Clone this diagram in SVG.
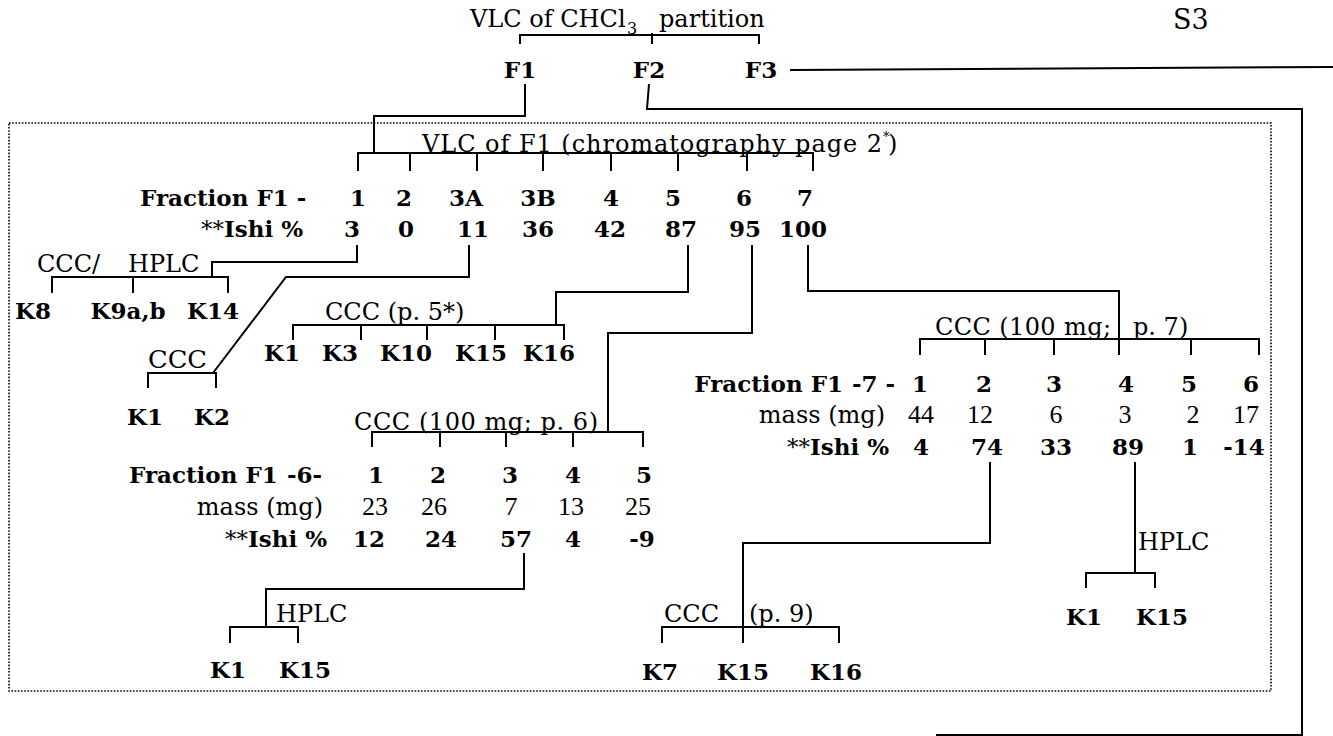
<svg xmlns="http://www.w3.org/2000/svg" width="1333" height="736" viewBox="0 0 1333 736">
<style>
text{fill:#000}
.r{font-family:"DejaVu Serif",serif;font-size:24px}
.b{font-family:"DejaVu Serif",serif;font-weight:bold;font-size:23px}
.m{font-family:"Liberation Serif",serif;font-size:26px}
.c{text-anchor:middle}
.e{text-anchor:end}
.n{font-weight:normal}
.ln{fill:none;stroke:#000;stroke-width:2}
.dot{fill:none;stroke:#000;stroke-width:1.6;stroke-dasharray:1.6 1.6}
</style>
<rect width="1333" height="736" fill="#fff"/>
<g id="box"><rect class="dot" x="9" y="123" width="1262" height="568"/></g>
<g id="connectors">
<path class="ln" d="M520,44V35H759V44M652,33V44"/>
<path class="ln" d="M525,84V116H374V153"/>
<path class="ln" d="M649,84L647,109H1302V735H936"/>
<path class="ln" d="M790,70L1333,67"/>
<path class="ln" d="M358,171V153H813V171M410,153V171M477,153V171M543,153V171M611,153V171M678,153V171M747,153V171"/>
<path class="ln" d="M357,245V262H212V277M52,293V277H228V293M133,277V293"/>
<path class="ln" d="M469,245V277H286L213,373M148,388V373H217M216,373V388"/>
<path class="ln" d="M688,245V292H556V325M293,340V325H564V340M361,325V340M427,325V340M495,325V340"/>
<path class="ln" d="M752,245V333H608V432M372,447V432H643V447M440,432V447M506,432V447M573,432V447"/>
<path class="ln" d="M808,245V291H1119V355M920,355V339H1259V355M985,339V355M1054,339V355M1191,339V355"/>
<path class="ln" d="M524,553V589H266V627M230,643V627H298V643"/>
<path class="ln" d="M990,462V543H743V643M662,643V627H839V643"/>
<path class="ln" d="M1135,462V573M1086,588V573H1155V588"/>
</g>
<g id="title">
<text class="r" x="470" y="27">VLC of CHCl</text>
<text class="r" x="627" y="34" style="font-size:16px">3</text>
<text class="r" x="659" y="27">partition</text>
</g>
<g id="s3"><text class="r" x="1173" y="29" style="font-size:27px">S3</text></g>
<g id="F1"><text class="b c" x="520" y="78">F1</text></g>
<g id="F2"><text class="b c" x="649" y="78">F2</text></g>
<g id="F3"><text class="b c" x="761" y="78">F3</text></g>
<g id="vlcF1">
<text class="r" x="422" y="152" textLength="460">VLC of F1 (chromatography page 2</text>
<text class="r" x="883" y="141" style="font-size:13px">*</text>
<text class="r" x="888" y="152">)</text>
</g>
<g id="fractionF1">
<text class="b" x="140" y="206">Fraction F1 -</text>
<text class="b c" x="358" y="206">1</text>
<text class="b c" x="404" y="206">2</text>
<text class="b c" x="466" y="206">3A</text>
<text class="b c" x="538" y="206">3B</text>
<text class="b c" x="611" y="206">4</text>
<text class="b c" x="673" y="206">5</text>
<text class="b c" x="744" y="206">6</text>
<text class="b c" x="805" y="206">7</text>
</g>
<g id="ishiF1">
<text class="b e" x="303" y="237"><tspan class="n">**</tspan>Ishi %</text>
<text class="b c" x="352" y="237">3</text>
<text class="b c" x="406" y="237">0</text>
<text class="b c" x="473" y="237">11</text>
<text class="b c" x="538" y="237">36</text>
<text class="b c" x="610" y="237">42</text>
<text class="b c" x="681" y="237">87</text>
<text class="b c" x="745" y="237">95</text>
<text class="b c" x="803" y="237">100</text>
</g>
<g id="cccHplc">
<text class="r" x="37" y="272">CCC/</text>
<text class="r" x="128" y="272">HPLC</text>
<text class="b c" x="33" y="319">K8</text>
<text class="b c" x="128" y="319">K9a,b</text>
<text class="b c" x="213" y="319">K14</text>
</g>
<g id="cccLeft">
<text class="r" x="148" y="368" textLength="59" lengthAdjust="spacingAndGlyphs">CCC</text>
<text class="b c" x="145" y="425">K1</text>
<text class="b c" x="212" y="425">K2</text>
</g>
<g id="cccP5">
<text class="r" x="325" y="320">CCC (p. 5*)</text>
<text class="b c" x="282" y="361">K1</text>
<text class="b c" x="340" y="361">K3</text>
<text class="b c" x="406" y="361">K10</text>
<text class="b c" x="481" y="361">K15</text>
<text class="b c" x="549" y="361">K16</text>
</g>
<g id="f16">
<text class="r" x="354" y="430" textLength="244">CCC (100 mg; p. 6)</text>
<text class="b" x="129" y="483">Fraction F1</text>
<text class="b" x="287" y="483">-6-</text>
<text class="b c" x="376" y="483">1</text>
<text class="b c" x="438" y="483">2</text>
<text class="b c" x="510" y="483">3</text>
<text class="b c" x="573" y="483">4</text>
<text class="b c" x="644" y="483">5</text>
<text class="r e" x="323" y="515">mass (mg)</text>
<text class="m c" x="375" y="515">23</text>
<text class="m c" x="434" y="515">26</text>
<text class="m c" x="511" y="515">7</text>
<text class="m c" x="571" y="515">13</text>
<text class="m c" x="638" y="515">25</text>
<text class="b e" x="327" y="547"><tspan class="n">**</tspan>Ishi %</text>
<text class="b c" x="369" y="547">12</text>
<text class="b c" x="441" y="547">24</text>
<text class="b c" x="516" y="547">57</text>
<text class="b c" x="573" y="547">4</text>
<text class="b c" x="642" y="547">-9</text>
</g>
<g id="hplcF16">
<text class="r" x="276" y="622">HPLC</text>
<text class="b c" x="228" y="678">K1</text>
<text class="b c" x="305" y="678">K15</text>
</g>
<g id="f17">
<text class="r" x="935" y="335" textLength="176">CCC (100 mg;</text>
<text class="r" x="1133" y="335">p. 7)</text>
<text class="b e" x="843" y="392">Fraction F1</text>
<text class="b" x="852" y="392">-7 -</text>
<text class="b c" x="920" y="392">1</text>
<text class="b c" x="984" y="392">2</text>
<text class="b c" x="1054" y="392">3</text>
<text class="b c" x="1126" y="392">4</text>
<text class="b c" x="1189" y="392">5</text>
<text class="b c" x="1251" y="392">6</text>
<text class="r e" x="885" y="423">mass (mg)</text>
<text class="m c" x="921" y="423">44</text>
<text class="m c" x="980" y="423">12</text>
<text class="m c" x="1056" y="423">6</text>
<text class="m c" x="1125" y="423">3</text>
<text class="m c" x="1193" y="423">2</text>
<text class="m c" x="1246" y="423">17</text>
<text class="b e" x="889" y="455"><tspan class="n">**</tspan>Ishi %</text>
<text class="b c" x="921" y="455">4</text>
<text class="b c" x="987" y="455">74</text>
<text class="b c" x="1056" y="455">33</text>
<text class="b c" x="1128" y="455">89</text>
<text class="b c" x="1190" y="455">1</text>
<text class="b c" x="1244" y="455">-14</text>
</g>
<g id="cccP9">
<text class="r" x="664" y="622">CCC</text>
<text class="r" x="749" y="622">(p. 9)</text>
<text class="b c" x="660" y="680">K7</text>
<text class="b c" x="743" y="680">K15</text>
<text class="b c" x="836" y="680">K16</text>
</g>
<g id="hplcF17">
<text class="r" x="1138" y="550">HPLC</text>
<text class="b c" x="1084" y="625">K1</text>
<text class="b c" x="1162" y="625">K15</text>
</g>
</svg>
